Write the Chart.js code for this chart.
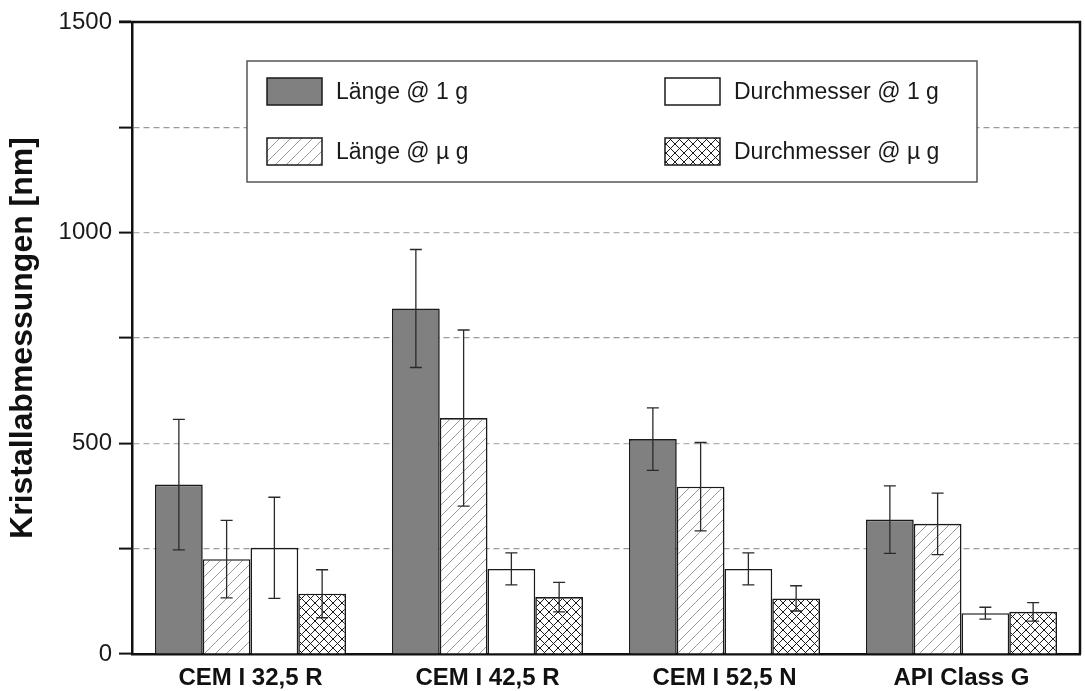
<!DOCTYPE html>
<html>
<head>
<meta charset="utf-8">
<script src="https://cdn.jsdelivr.net/npm/chart.js@4.4.1/dist/chart.umd.min.js"></script>
<style>
  html, body { margin: 0; padding: 0; background: #fff; }
  #wrap { width: 1085px; height: 691px; position: relative; }
</style>
</head>
<body>
<div id="wrap"><canvas id="c" width="1085" height="691"></canvas></div>
<script>
// ---- data ----
const categories = ['CEM I 32,5 R', 'CEM I 42,5 R', 'CEM I 52,5 N', 'API Class G'];
const seriesLabels = ['Länge @ 1 g', 'Länge @ µ g', 'Durchmesser @ 1 g', 'Durchmesser @ µ g'];
const laenge1g      = [402, 820, 510, 319];
const laenge1gErr   = [155, 140, 74, 80];
const laengeMug     = [225, 560, 397, 309];
const laengeMugErr  = [92, 209, 105, 73];
const durch1g       = [252, 202, 202, 97];
const durch1gErr    = [120, 38, 38, 14];
const durchMug      = [143, 135, 132, 100];
const durchMugErr   = [57, 35, 30, 22];
const yLabelTicks   = [0, 500, 1000, 1500];
const yMin = 0, yMax = 1500, yStep = 250;

const FONT = '"Liberation Sans", Arial, Helvetica, sans-serif';

// ---- fill patterns ----
function makePattern(size, color, lw, cross) {
  const c = document.createElement('canvas');
  c.width = size; c.height = size;
  const g = c.getContext('2d');
  g.fillStyle = '#fff';
  g.fillRect(0, 0, size, size);
  g.strokeStyle = color;
  g.lineWidth = lw;
  g.beginPath();
  g.moveTo(0, size); g.lineTo(size, 0);
  g.moveTo(-2, 2); g.lineTo(2, -2);
  g.moveTo(size - 2, size + 2); g.lineTo(size + 2, size - 2);
  if (cross) {
    g.moveTo(0, 0); g.lineTo(size, size);
    g.moveTo(-2, size - 2); g.lineTo(2, size + 2);
    g.moveTo(size - 2, -2); g.lineTo(size + 2, 2);
  }
  g.stroke();
  return g.createPattern(c, 'repeat');
}
const hatch = makePattern(11, '#9a9a9a', 1, false);
const crossHatch = makePattern(9, '#1a1a1a', 1, true);

const errors = [laenge1gErr, laengeMugErr, durch1gErr, durchMugErr];

// ---- plugins ----
const errorBars = {
  id: 'errorBars',
  afterDatasetsDraw(chart) {
    const ctx = chart.ctx;
    const ys = chart.scales.y;
    ctx.save();
    ctx.strokeStyle = '#2a2a2a';
    ctx.lineWidth = 1.3;
    chart.data.datasets.forEach((ds, di) => {
      const meta = chart.getDatasetMeta(di);
      meta.data.forEach((el, i) => {
        const v = ds.data[i], e = errors[di][i];
        const yt = ys.getPixelForValue(v + e);
        const yb = ys.getPixelForValue(v - e);
        const x = el.x, cw = 6;
        ctx.beginPath();
        ctx.moveTo(x, yt); ctx.lineTo(x, yb);
        ctx.moveTo(x - cw, yt); ctx.lineTo(x + cw, yt);
        ctx.moveTo(x - cw, yb); ctx.lineTo(x + cw, yb);
        ctx.stroke();
      });
    });
    ctx.restore();
  }
};

const frameAndLegend = {
  id: 'frameAndLegend',
  afterDraw(chart) {
    const ctx = chart.ctx;
    const a = chart.chartArea;
    ctx.save();
    // frame (top + right)
    ctx.strokeStyle = '#111';
    ctx.lineWidth = 2.5;
    ctx.beginPath();
    ctx.moveTo(a.left - 13, a.top);
    ctx.lineTo(a.right, a.top);
    ctx.lineTo(a.right, a.bottom);
    ctx.stroke();

    // legend box
    const bx = 247, by = 61, bw = 730, bh = 121;
    ctx.fillStyle = '#fff';
    ctx.fillRect(bx, by, bw, bh);
    ctx.strokeStyle = '#555';
    ctx.lineWidth = 1.5;
    ctx.strokeRect(bx, by, bw, bh);

    const order = [0, 2, 1, 3];
    const colX = [267, 665];
    const rowY = [78, 138];
    const sw = 55, sh = 27;
    ctx.font = '23px ' + FONT;
    ctx.textBaseline = 'middle';
    ctx.textAlign = 'left';
    order.forEach((di, k) => {
      const ds = chart.data.datasets[di];
      const x = colX[k % 2], y = rowY[Math.floor(k / 2)];
      ctx.fillStyle = ds.backgroundColor;
      ctx.fillRect(x, y, sw, sh);
      ctx.strokeStyle = '#1a1a1a';
      ctx.lineWidth = 1.5;
      ctx.strokeRect(x, y, sw, sh);
      ctx.fillStyle = '#1a1a1a';
      ctx.fillText(ds.label, x + sw + 14, y + sh / 2 + 1);
    });
    ctx.restore();
  }
};

new Chart(document.getElementById('c'), {
  type: 'bar',
  data: {
    labels: categories,
    datasets: [
      { label: seriesLabels[0], data: laenge1g,  backgroundColor: '#808080' },
      { label: seriesLabels[1], data: laengeMug, backgroundColor: hatch },
      { label: seriesLabels[2], data: durch1g,   backgroundColor: '#ffffff' },
      { label: seriesLabels[3], data: durchMug,  backgroundColor: crossHatch }
    ].map(d => Object.assign(d, {
      borderColor: '#1a1a1a',
      borderWidth: 1.6,
      borderSkipped: 'bottom',
      categoryPercentage: 0.806,
      barPercentage: 1.0
    }))
  },
  options: {
    responsive: false,
    animation: false,
    devicePixelRatio: 1,
    layout: { padding: { left: 0, right: 5, top: 22, bottom: 0 } },
    plugins: {
      legend: { display: false },
      tooltip: { enabled: false }
    },
    scales: {
      x: {
        afterFit(scale) { scale.height = 37; },
        grid: { display: false },
        border: { display: true, color: '#111', width: 2.5 },
        ticks: {
          color: '#111',
          padding: 2,
          font: { family: FONT, size: 24, weight: 'bold' }
        }
      },
      y: {
        min: yMin,
        max: yMax,
        afterFit(scale) { scale.width = 132; },
        afterBuildTicks(scale) {
          const t = [];
          for (let v = yMin; v <= yMax; v += yStep) t.push({ value: v });
          scale.ticks = t;
        },
        grid: {
          color: (c) => (c.tick && (c.tick.value === yMin || c.tick.value === yMax)) ? 'rgba(0,0,0,0)'
                 : (c.tick && c.tick.value % 500 === 0 ? '#b0b0b0' : '#9a9a9a'),
          lineWidth: 1.2,
          drawTicks: true,
          tickLength: 13,
          tickColor: '#111',
          tickWidth: 2
        },
        border: { display: true, color: '#111', width: 2.5, dash: [6, 4] },
        ticks: {
          color: '#1a1a1a',
          padding: 7,
          font: { family: FONT, size: 24 },
          callback: (v) => yLabelTicks.includes(v) ? String(v) : ''
        },
        title: {
          display: true,
          text: 'Kristallabmessungen [nm]',
          color: '#111',
          padding: { top: 4, bottom: 0 },
          font: { family: FONT, size: 32, weight: 'bold' }
        }
      }
    }
  },
  plugins: [errorBars, frameAndLegend]
});
</script>
</body>
</html>
